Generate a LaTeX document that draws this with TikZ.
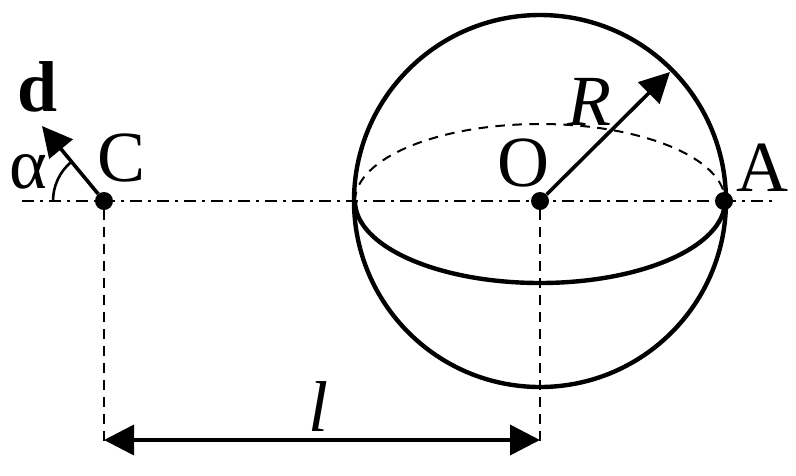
\documentclass[tikz,border=0pt]{standalone}
\usepackage{fontspec}
\setmainfont{Liberation Serif}
\usetikzlibrary{arrows.meta}
\tikzset{
 thick line/.style={line width=4.4pt,black},
 thin dash/.style={line width=2pt,dash pattern=on 9.5pt off 7.5pt},
 axis line/.style={line width=2pt,dash pattern=on 12pt off 6pt on 3pt off 6pt},
 pt/.style={circle,fill=black,inner sep=0pt,minimum size=18pt},
 lab/.style={inner sep=0pt,font=\fontsize{72}{76}\selectfont},
 head end/.style={-{Triangle[length=30pt,width=30pt]}},
 head both/.style={{Triangle[length=30pt,width=30pt]}-{Triangle[length=30pt,width=30pt]}},
}
\begin{document}
\begin{tikzpicture}[x=1pt,y=-1pt]
\useasboundingbox (0,0) rectangle (796,475);
\coordinate (L) at (22,201);
\coordinate (Rr) at (775,201);
\node[pt] (C) at (104,201) {};
\node[pt] (O) at (540,201) {};
\node[pt] (A) at (724,201) {};
\coordinate (W) at (355,201);
\draw[axis line] (L) -- (Rr);
\draw[thick line] (O) circle[radius=186];
\draw[thin dash] (W) arc[start angle=180,end angle=360,x radius=185,y radius=77];
\draw[thick line] (W) arc[start angle=180,end angle=0,x radius=185,y radius=82];
\coordinate (Cb) at (104,440);
\coordinate (Ob) at (540,440);
\coordinate (Ce) at (104,447);
\coordinate (Oe) at (540,447);
\draw[thin dash] (C) -- (Ce);
\draw[thin dash] (O) -- (Oe);
\draw[line width=3.6pt,head both] (Cb) -- (Ob);
\coordinate (Rt) at (670,72);
\draw[line width=3.6pt,head end] (O) -- (Rt);
\coordinate (D) at (42,126);
\draw[line width=3.6pt,head end] (C) -- (D);
\draw[line width=2.6pt] (53,201) arc[start angle=180,end angle=230,radius=51];
\node[lab,font=\fontsize{72}{76}\selectfont\bfseries] (dl) at (38,87) {d};
\node[lab] (al) at (28,172) {α};
\node[lab] (cl) at (122,158) {C};
\node[lab] (ol) at (523,163) {O};
\node[lab] (al2) at (762,168) {A};
\node[lab,font=\fontsize{72}{76}\selectfont\itshape] (rl) at (589,102) {R};
\node[lab,font=\fontsize{72}{76}\selectfont\itshape] (ll) at (318,407) {l};
\end{tikzpicture}
\end{document}
